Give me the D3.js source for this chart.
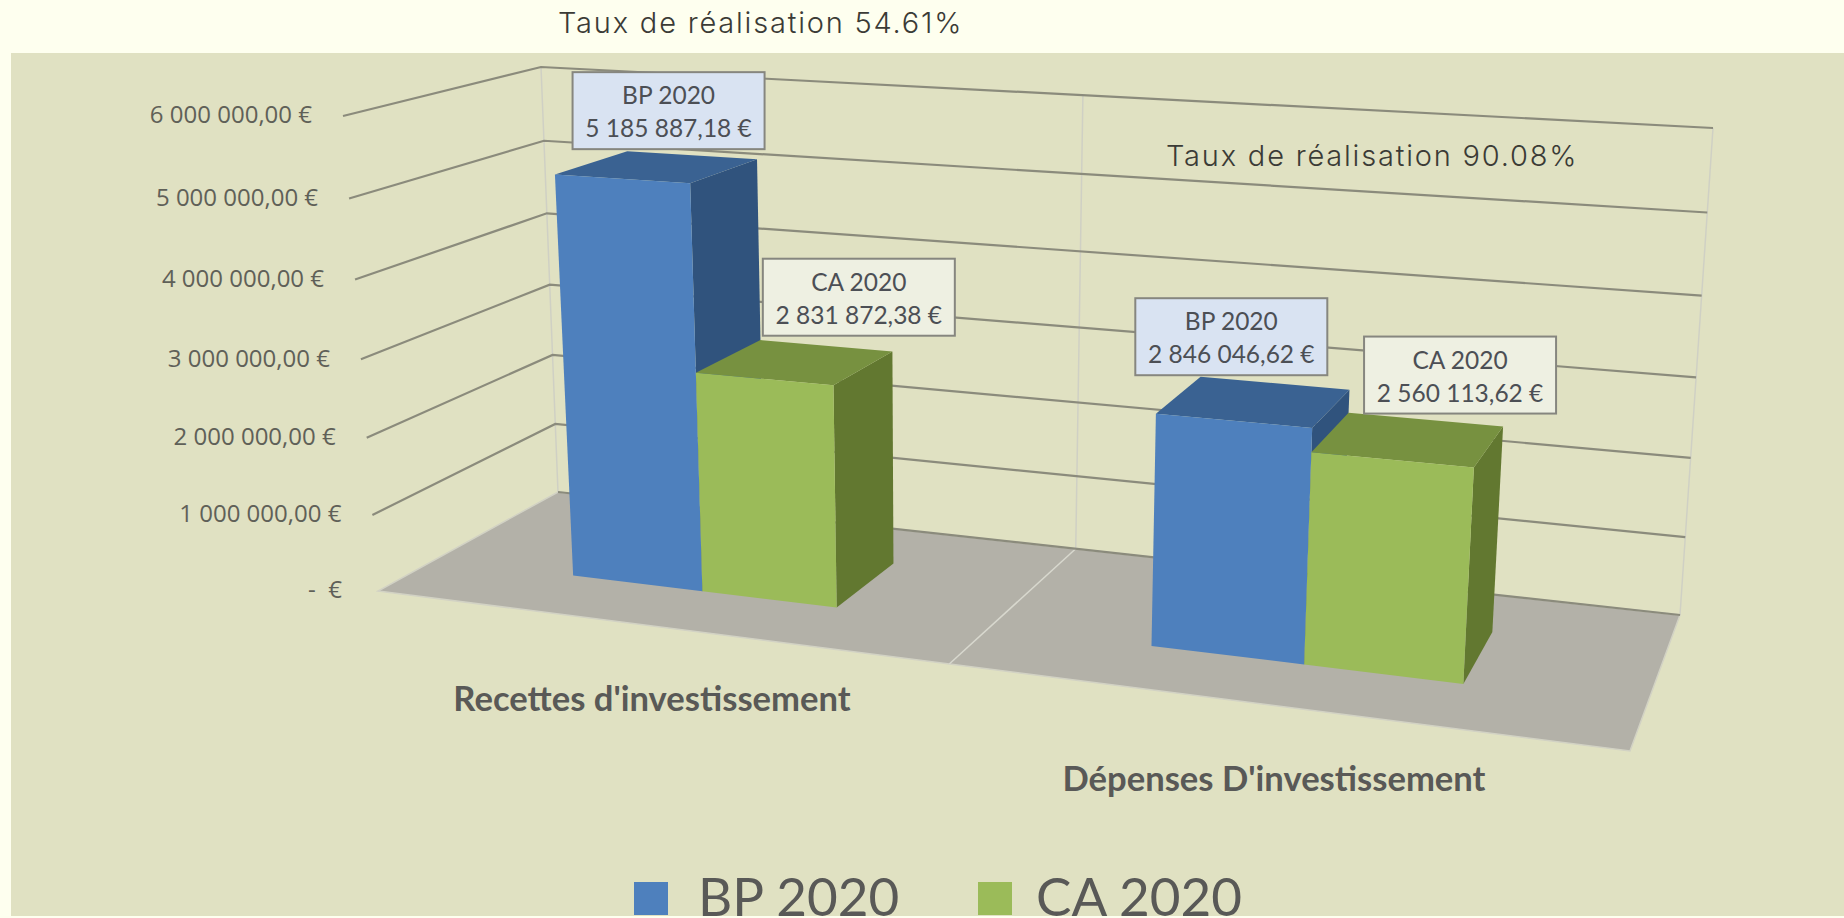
<!DOCTYPE html>
<html>
<head>
<meta charset="utf-8">
<title>Taux de réalisation</title>
<script src="https://cdn.jsdelivr.net/npm/d3@7"></script>
<style>
    html, body { margin: 0; padding: 0; background: #feffef; overflow: hidden; }
    svg { display: block; }
</style>
</head>
<body>
<div id="chart"></div>
<script>
// Chart values
const categories = ["Recettes d'investissement", "Dépenses D'investissement"];
const seriesNames = ["BP 2020", "CA 2020"];
const bpValues = [5185887.18, 2846046.62];
const caValues = [2831872.38, 2560113.62];
const valueTicks = [0, 1000000, 2000000, 3000000, 4000000, 5000000, 6000000];
const tickLabels = ["-  €", "1 000 000,00 €", "2 000 000,00 €", "3 000 000,00 €", "4 000 000,00 €", "5 000 000,00 €", "6 000 000,00 €"];
const boxValues = [["5 185 887,18 €", "2 846 046,62 €"], ["2 831 872,38 €", "2 560 113,62 €"]];
const notes = ["Taux de réalisation 54.61%", "Taux de réalisation 90.08%"];

// Layout: corners of the floor and of the 6M plane, as seen by the 3D camera
const floorCorners = [[378, 591], [1630, 751], [1680, 615], [558, 492]];
const topCorners = [[343, 116], [1665, 196], [1713, 128], [541, 67]];
const verticalPerspective = 1.05;
const depthRange = [0.30, 0.70];
const width = 1844, height = 918;

const colors = {
    bp: { front: "#4e80bd", side: "#30537d", top: "#3a6292" },
    ca: { front: "#9bbb59", side: "#627830", top: "#779140" }
};

const u = d3.scaleBand().domain(d3.range(categories.length)).range([0, 1]);
const inner = d3.scaleBand().domain(d3.range(seriesNames.length)).range([0, u.bandwidth()]).paddingOuter(1.1);
const w = d3.scaleLinear().domain([0, 6000000]).range([0, 1]);

// Unit square -> quadrilateral homography
function quadMap(q) {
    const [[x0, y0], [x1, y1], [x2, y2], [x3, y3]] = q;
    const dx1 = x1 - x2, dx2 = x3 - x2, sx = x0 - x1 + x2 - x3;
    const dy1 = y1 - y2, dy2 = y3 - y2, sy = y0 - y1 + y2 - y3;
    const det = dx1 * dy2 - dx2 * dy1;
    const g = (sx * dy2 - dx2 * sy) / det;
    const h = (dx1 * sy - sx * dy1) / det;
    const a = x1 - x0 + g * x1, b = x3 - x0 + h * x3;
    const d = y1 - y0 + g * y1, e = y3 - y0 + h * y3;
    return (s, t) => {
        const k = g * s + h * t + 1;
        return [(a * s + b * t + x0) / k, (d * s + e * t + y0) / k];
    };
}

const floorMap = quadMap(floorCorners);
const topMap = quadMap(topCorners);

// s along the categories, t in depth (0 front, 1 back), v value in 0..1
function project(s, t, v) {
    const f = v / (v + (1 - v) * verticalPerspective);
    const p0 = floorMap(s, t), p1 = topMap(s, t);
    return [p0[0] + (p1[0] - p0[0]) * f, p0[1] + (p1[1] - p0[1]) * f];
}

const svg = d3.select("#chart").append("svg").attr("width", width).attr("height", height);

// Backgrounds
svg.append("rect").attr("width", width).attr("height", height).attr("fill", "#feffef");
svg.append("rect").attr("x", 11).attr("y", 53).attr("width", width - 11).attr("height", 863).attr("fill", "#e0e1c2");

const poly = (g, pts, fill) => g.append("polygon")
    .attr("points", pts.map(p => p.join(",")).join(" "))
    .attr("fill", fill);

// Floor
const scene = svg.append("g");
poly(scene, [project(0, 0, 0), project(1, 0, 0), project(1, 1, 0), project(0, 1, 0)], "#b3b1a8")
    .attr("stroke", "#d2d2c4").attr("stroke-width", 1.5);
scene.append("line")
    .attr("x1", project(0.5, 0, 0)[0]).attr("y1", project(0.5, 0, 0)[1])
    .attr("x2", project(0.5, 1, 0)[0]).attr("y2", project(0.5, 1, 0)[1])
    .attr("stroke", "#d8d8ce").attr("stroke-width", 1.5);

// Wall verticals
[0, 0.5, 1].forEach(s => {
    const a = project(s, 1, 0), b = project(s, 1, 1);
    scene.append("line")
        .attr("x1", a[0]).attr("y1", a[1]).attr("x2", b[0]).attr("y2", b[1])
        .attr("stroke", "#cfd0c4").attr("stroke-width", 1.5);
});

// Grid lines run along the left wall then along the back wall
valueTicks.forEach((tick, i) => {
    const v = w(tick);
    const pts = [project(0, 0, v), project(0, 1, v), project(1, 1, v)];
    if (i === 0) pts.shift();
    scene.append("polyline")
        .attr("points", pts.map(p => p.join(",")).join(" "))
        .attr("fill", "none")
        .attr("stroke", "#8b8b7c")
        .attr("stroke-width", 2.2);

    const left = project(0, 0, v);
    svg.append("text")
        .attr("x", left[0] - (i === 0 ? 36 : 31))
        .attr("y", left[1] + 1)
        .attr("dominant-baseline", "middle")
        .attr("text-anchor", "end")
        .attr("font-family", "Open Sans")
        .attr("font-size", 24)
        .attr("fill", "#5f6058")
        .attr("xml:space", "preserve")
        .text(tickLabels[i]);
});

// Bars, back to front within each category
const seriesValues = [bpValues, caValues];
const seriesColors = [colors.bp, colors.ca];
categories.forEach((cat, c) => {
    seriesNames.forEach((name, k) => {
        const s0 = u(c) + inner(k), s1 = s0 + inner.bandwidth();
        const [t0, t1] = depthRange;
        const v = w(seriesValues[k][c]);
        const col = seriesColors[k];
        poly(scene, [project(s1, t0, 0), project(s1, t1, 0), project(s1, t1, v), project(s1, t0, v)], col.side);
        poly(scene, [project(s0, t0, v), project(s1, t0, v), project(s1, t1, v), project(s0, t1, v)], col.top);
        poly(scene, [project(s0, t0, 0), project(s1, t0, 0), project(s1, t0, v), project(s0, t0, v)], col.front);
    });
});

// Value boxes, placed from the back top edge of their bar
const boxNudge = [[[-23, -6], [-43, -8]], [[33, -10], [35, -6]]];
const boxFills = ["#d9e3f2", "#eef0e2"];
const boxW = 192, boxH = 77;
seriesNames.forEach((name, k) => {
    categories.forEach((cat, c) => {
        const s = u(c) + inner(k) + inner.bandwidth() / 2;
        const a = project(s, depthRange[1], w(seriesValues[k][c]));
        const cx = a[0] + boxNudge[k][c][0], bottom = a[1] + boxNudge[k][c][1];
        svg.append("rect")
            .attr("x", cx - boxW / 2).attr("y", bottom - boxH)
            .attr("width", boxW).attr("height", boxH)
            .attr("fill", boxFills[k])
            .attr("stroke", "#86867f").attr("stroke-width", 2);
        [name, boxValues[k][c]].forEach((line, j) => {
            svg.append("text")
                .attr("x", cx).attr("y", bottom - 45 + j * 33)
                .attr("text-anchor", "middle")
                .attr("font-family", "Lato")
                .attr("font-size", 24.5)
                .attr("fill", "#4c4f55")
                .text(line);
        });
    });
});

// Category labels
const catLabelPos = [[652, 711], [1274, 791]];
categories.forEach((cat, c) => {
    svg.append("text")
        .attr("x", catLabelPos[c][0]).attr("y", catLabelPos[c][1])
        .attr("text-anchor", "middle")
        .attr("font-family", "Lato")
        .attr("font-weight", 700)
        .attr("font-size", 34.6)
        .attr("fill", "#595957")
        .text(cat);
});

// Free notes
const notePos = [[558, 33], [1166, 166]];
notes.forEach((note, i) => {
    svg.append("text")
        .attr("x", notePos[i][0]).attr("y", notePos[i][1])
        .attr("font-family", "Inter")
        .attr("font-weight", 300)
        .attr("font-size", 29)
        .attr("letter-spacing", 1.8)
        .attr("fill", "#3b3b36")
        .text(note);
});

// Legend
const legendPos = [[634, 698], [978, 1036]];
seriesNames.forEach((name, k) => {
    svg.append("rect")
        .attr("x", legendPos[k][0]).attr("y", 882)
        .attr("width", 34).attr("height", 33)
        .attr("fill", seriesColors[k].front);
    svg.append("text")
        .attr("x", legendPos[k][1]).attr("y", 916)
        .attr("font-family", "Lato")
        .attr("font-size", 53)
        .attr("fill", "#595957")
        .text(name);
});
</script>
</body>
</html>
